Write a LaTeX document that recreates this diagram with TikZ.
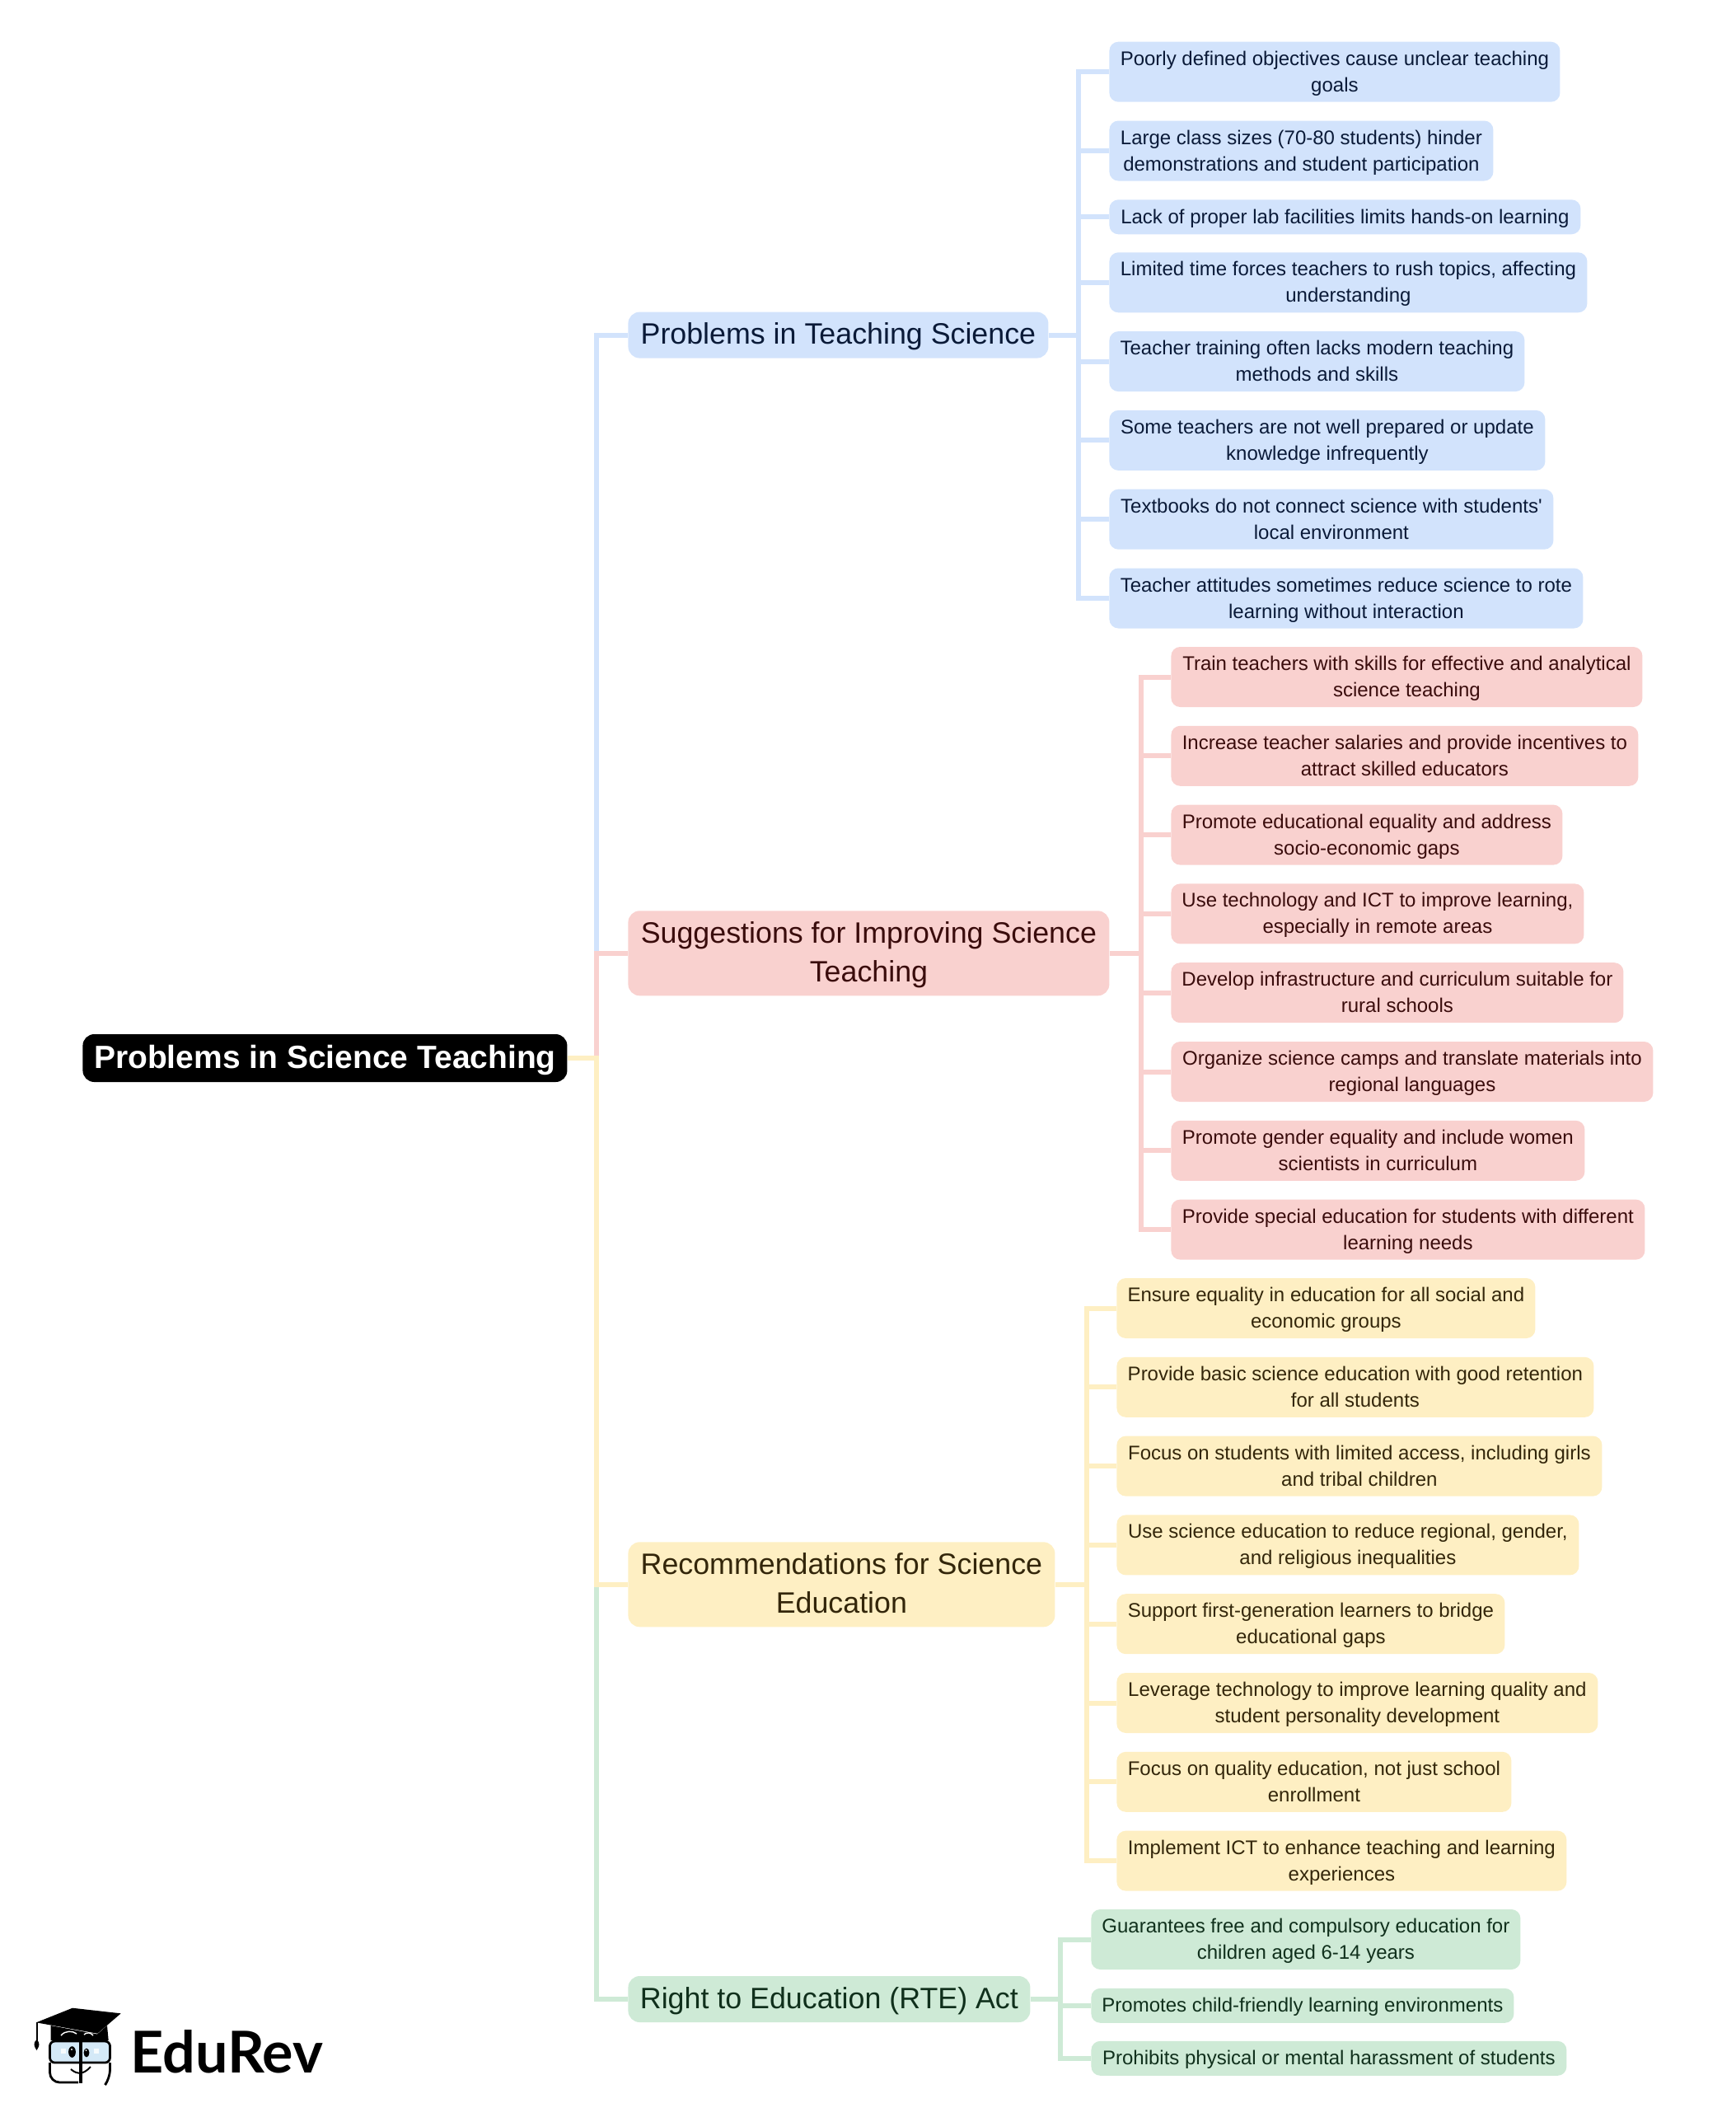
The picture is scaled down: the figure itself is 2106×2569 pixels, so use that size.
\documentclass[tikz,border=0pt]{standalone}
\usepackage{fontspec}
\usepackage{xcolor}
\setmainfont{Liberation Sans}
\newfontfamily\logofont{Lato}
\usetikzlibrary{positioning}

\definecolor{blueFill}{HTML}{D2E3FC}
\definecolor{redFill}{HTML}{F9D1CF}
\definecolor{yellowFill}{HTML}{FEEFC3}
\definecolor{greenFill}{HTML}{CEEAD6}
\definecolor{blueInk}{HTML}{0A1A38}
\definecolor{redInk}{HTML}{3A0C0C}
\definecolor{yellowInk}{HTML}{33260A}
\definecolor{greenInk}{HTML}{10301C}
\definecolor{glassBlue}{HTML}{D4E9F7}

\tikzset{
  leaf/.style={anchor=west, align=center, inner xsep=0pt, inner ysep=0pt, rounded corners=5.5pt,
    text depth=3pt, font=\fontsize{12}{16}\selectfont},
  branch/.style={anchor=west, align=center, inner xsep=0pt, inner ysep=0pt, rounded corners=7pt,
    text depth=4.5pt, font=\fontsize{17.9}{23.4}\selectfont},
  twoline/.style={minimum height=36.5pt, text height=27pt},
  oneline/.style={minimum height=21pt, text height=10.9pt},
  bigone/.style={minimum height=28pt, text height=15.5pt},
  bigtwo/.style={minimum height=51.5pt, text height=38.9pt},
  link/.style={line width=3pt},
  bluebox/.style={fill=blueFill, text=blueInk},
  redbox/.style={fill=redFill, text=redInk},
  yellowbox/.style={fill=yellowFill, text=yellowInk},
  greenbox/.style={fill=greenFill, text=greenInk},
}

\begin{document}
\begin{tikzpicture}[x=0.5pt, y=-0.5pt]
\useasboundingbox (0,0) rectangle (2106,2569);

% Root
\node[anchor=west, inner sep=0pt, minimum width=294pt, minimum height=29pt, fill=black, text=white,
  text depth=4.5pt, text height=16.5pt, rounded corners=7pt, font=\fontsize{19.5}{23.4}\selectfont\bfseries] (root) at (100,1284) {Problems in Science Teaching};

% Main branches
\node[branch, bluebox, bigone, minimum width=255pt] (teach) at (762,406.6) {Problems in Teaching Science};
\node[branch, redbox, bigtwo, minimum width=292pt] (suggest) at (762,1156.8) {Suggestions for Improving Science\\Teaching};
\node[branch, yellowbox, bigtwo, minimum width=259pt] (recomm) at (762,1922.8) {Recommendations for Science\\Education};
\node[branch, greenbox, bigone, minimum width=244pt] (rte) at (762,2426) {Right to Education (RTE) Act};

% Bus points
\coordinate (trunk) at (724,1284);
\coordinate (teachbus) at (1309,406.6);
\coordinate (suggestbus) at (1385,1156.8);
\coordinate (recommbus) at (1319,1922.8);
\coordinate (rtebus) at (1287,2426);

% Leaves of the first branch
\node[leaf, bluebox, twoline, minimum width=273.5pt] (teach1) at (1346,87.2) {Poorly defined objectives cause unclear teaching\\goals};
\node[leaf, bluebox, twoline, minimum width=233pt] (teach2) at (1346,183) {Large class sizes (70-80 students) hinder\\demonstrations and student participation};
\node[leaf, bluebox, oneline, minimum width=286pt] (teach3) at (1346,263.3) {Lack of proper lab facilities limits hands-on learning};
\node[leaf, bluebox, twoline, minimum width=290pt] (teach4) at (1346,342.8) {Limited time forces teachers to rush topics, affecting\\understanding};
\node[leaf, bluebox, twoline, minimum width=252pt] (teach5) at (1346,438.6) {Teacher training often lacks modern teaching\\methods and skills};
\node[leaf, bluebox, twoline, minimum width=264.5pt] (teach6) at (1346,534.4) {Some teachers are not well prepared or update\\knowledge infrequently};
\node[leaf, bluebox, twoline, minimum width=269.5pt] (teach7) at (1346,630.2) {Textbooks do not connect science with students\textquotesingle\\local environment};
\node[leaf, bluebox, twoline, minimum width=287.5pt] (teach8) at (1346,726) {Teacher attitudes sometimes reduce science to rote\\learning without interaction};

% Leaves of the second branch
\node[leaf, redbox, twoline, minimum width=286pt] (suggest1) at (1421,821.5) {Train teachers with skills for effective and analytical\\science teaching};
\node[leaf, redbox, twoline, minimum width=283.5pt] (suggest2) at (1421,917.3) {Increase teacher salaries and provide incentives to\\attract skilled educators};
\node[leaf, redbox, twoline, minimum width=237.5pt] (suggest3) at (1421,1013.1) {Promote educational equality and address\\socio-economic gaps};
\node[leaf, redbox, twoline, minimum width=250.5pt] (suggest4) at (1421,1108.9) {Use technology and ICT to improve learning,\\especially in remote areas};
\node[leaf, redbox, twoline, minimum width=274.5pt] (suggest5) at (1421,1204.7) {Develop infrastructure and curriculum suitable for\\rural schools};
\node[leaf, redbox, twoline, minimum width=292.5pt] (suggest6) at (1421,1300.5) {Organize science camps and translate materials into\\regional languages};
\node[leaf, redbox, twoline, minimum width=251pt] (suggest7) at (1421,1396.3) {Promote gender equality and include women\\scientists in curriculum};
\node[leaf, redbox, twoline, minimum width=287.5pt] (suggest8) at (1421,1492.1) {Provide special education for students with different\\learning needs};

% Leaves of the third branch
\node[leaf, yellowbox, twoline, minimum width=254pt] (recomm1) at (1355,1587.5) {Ensure equality in education for all social and\\economic groups};
\node[leaf, yellowbox, twoline, minimum width=289.5pt] (recomm2) at (1355,1683.3) {Provide basic science education with good retention\\for all students};
\node[leaf, yellowbox, twoline, minimum width=294.5pt] (recomm3) at (1355,1779.1) {Focus on students with limited access, including girls\\and tribal children};
\node[leaf, yellowbox, twoline, minimum width=280.5pt] (recomm4) at (1355,1874.9) {Use science education to reduce regional, gender,\\and religious inequalities};
\node[leaf, yellowbox, twoline, minimum width=235.5pt] (recomm5) at (1355,1970.7) {Support first-generation learners to bridge\\educational gaps};
\node[leaf, yellowbox, twoline, minimum width=292pt] (recomm6) at (1355,2066.5) {Leverage technology to improve learning quality and\\student personality development};
\node[leaf, yellowbox, twoline, minimum width=239.5pt] (recomm7) at (1355,2162.3) {Focus on quality education, not just school\\enrollment};
\node[leaf, yellowbox, twoline, minimum width=273pt] (recomm8) at (1355,2258.1) {Implement ICT to enhance teaching and learning\\experiences};

% Leaves of the fourth branch
\node[leaf, greenbox, twoline, minimum width=260.5pt] (rte1) at (1324,2353.5) {Guarantees free and compulsory education for\\children aged 6-14 years};
\node[leaf, greenbox, oneline, minimum width=256.5pt] (rte2) at (1324,2433.8) {Promotes child-friendly learning environments};
\node[leaf, greenbox, oneline, minimum width=288.5pt] (rte3) at (1324,2497.8) {Prohibits physical or mental harassment of students};

% Root to branches
\draw[link, blueFill] (root.east) -- (trunk) |- (teach.west);
\draw[link, greenFill] (root.east) -- (trunk) |- (rte.west);
\draw[link, redFill] (root.east) -- (trunk) |- (suggest.west);
\draw[link, yellowFill] (root.east) -- (trunk) |- (recomm.west);

% Branch to leaves
\draw[link, blueFill] (teach.east) -- (teachbus) |- (teach1.west);
\draw[link, blueFill] (teachbus) |- (teach2.west);
\draw[link, blueFill] (teachbus) |- (teach3.west);
\draw[link, blueFill] (teachbus) |- (teach4.west);
\draw[link, blueFill] (teachbus) |- (teach5.west);
\draw[link, blueFill] (teachbus) |- (teach6.west);
\draw[link, blueFill] (teachbus) |- (teach7.west);
\draw[link, blueFill] (teachbus) |- (teach8.west);

\draw[link, redFill] (suggest.east) -- (suggestbus) |- (suggest1.west);
\draw[link, redFill] (suggestbus) |- (suggest2.west);
\draw[link, redFill] (suggestbus) |- (suggest3.west);
\draw[link, redFill] (suggestbus) |- (suggest4.west);
\draw[link, redFill] (suggestbus) |- (suggest5.west);
\draw[link, redFill] (suggestbus) |- (suggest6.west);
\draw[link, redFill] (suggestbus) |- (suggest7.west);
\draw[link, redFill] (suggestbus) |- (suggest8.west);

\draw[link, yellowFill] (recomm.east) -- (recommbus) |- (recomm1.west);
\draw[link, yellowFill] (recommbus) |- (recomm2.west);
\draw[link, yellowFill] (recommbus) |- (recomm3.west);
\draw[link, yellowFill] (recommbus) |- (recomm4.west);
\draw[link, yellowFill] (recommbus) |- (recomm5.west);
\draw[link, yellowFill] (recommbus) |- (recomm6.west);
\draw[link, yellowFill] (recommbus) |- (recomm7.west);
\draw[link, yellowFill] (recommbus) |- (recomm8.west);

\draw[link, greenFill] (rte.east) -- (rtebus) |- (rte1.west);
\draw[link, greenFill] (rtebus) |- (rte2.west);
\draw[link, greenFill] (rtebus) |- (rte3.west);

% Logo: cap and tassel
\fill[black] (44,2454.3) -- (88,2436.7) -- (146.7,2443.3) -- (118.3,2467.7) -- cycle;
\fill[black] (61.7,2458) -- (118,2468.5) -- (130,2458) -- (131.7,2476) -- (61.7,2476) -- cycle;
\draw[black, line width=1pt] (44.5,2454.3) -- (44.5,2478);
\fill[black] (44.5,2475) .. controls (49,2479) and (48,2483) .. (44.5,2488) .. controls (41,2483) and (40,2479) .. (44.5,2475) -- cycle;
\draw[white, line width=0.7pt] (74,2470) .. controls (79,2464) and (88,2464) .. (93,2468);
\draw[white, line width=0.7pt] (102,2469) .. controls (105,2466) and (110,2466) .. (113,2470);

% Logo: glasses and face
\draw[black, line width=1.4pt, fill=glassBlue, rounded corners=3pt] (60.5,2477) rectangle (133.5,2503);
\draw[black, line width=1.4pt, rounded corners=6pt] (60.5,2503) -- (60.5,2527) -- (95,2527);
\draw[black, line width=1.4pt, rounded corners=5pt] (133.5,2503) -- (133.5,2522) -- (129,2528);
\draw[black, line width=1.8pt] (98,2474) -- (98,2528);
\fill[black] (87.5,2490) ellipse [x radius=4.4, y radius=6.8];
\fill[black] (105,2491) ellipse [x radius=3.4, y radius=5.4];
\fill[white] (87,2487) circle (1.1);
\fill[white] (104.5,2488) circle (1);
\fill[white!80!glassBlue] (74,2486) rectangle (80,2492);
\fill[white!80!glassBlue] (114,2486) rectangle (120,2492);
\draw[black, line width=1pt] (86,2511) .. controls (94,2518) and (102,2517) .. (110,2508);

% Logo: word
\node[inner sep=0pt, anchor=base west, font=\fontsize{35}{35}\logofont\bfseries, text=black] (logotext) at (158,2515) {EduRev};

\end{tikzpicture}
\end{document}
